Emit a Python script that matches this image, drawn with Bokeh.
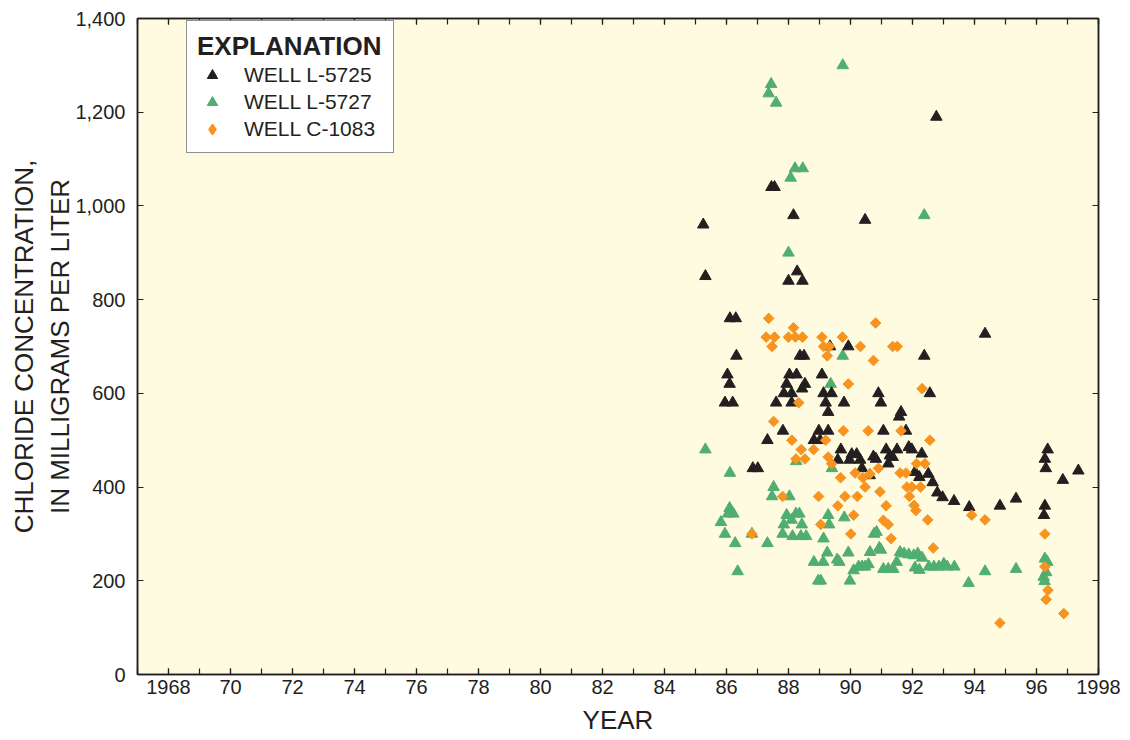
from bokeh.plotting import figure
from bokeh.models import FixedTicker, LinearAxis, Legend, LegendItem
from bokeh.embed import file_html
from bokeh.resources import INLINE
import math

# ---------------- data ----------------
l5725_year = [1987.45, 1987.55, 1988.16, 1985.25, 1988.28, 1988.00, 1988.45, 1985.32, 1992.77, 1990.47,
              1986.11, 1986.30, 1986.32, 1988.37, 1988.50, 1986.03, 1986.10, 1985.95, 1986.20, 1988.03,
              1988.26, 1988.53, 1987.94, 1988.44, 1987.85, 1988.10, 1987.60, 1988.10, 1987.82, 1987.32,
              1986.85, 1987.01, 1989.34, 1989.93, 1992.38, 1989.08, 1989.13, 1989.39, 1989.20, 1989.79,
              1989.28, 1990.90, 1990.98, 1992.56, 1991.63, 1991.57, 1988.98, 1989.28, 1991.06, 1991.79,
              1988.82, 1989.02, 1989.69, 1990.04, 1990.20, 1989.97, 1990.31, 1989.59, 1990.74, 1990.82,
              1991.15, 1991.50, 1991.27, 1991.36, 1991.88, 1991.98, 1992.30, 1991.22, 1990.37, 1990.62,
              1992.08, 1992.22, 1992.51, 1992.65, 1992.80, 1992.97, 1993.34, 1993.83, 1994.82, 1995.34,
              1994.34, 1996.36, 1996.27, 1996.30, 1997.35, 1996.85, 1996.27, 1996.24]
l5725_cl = [1040, 1040, 980, 960, 860, 840, 840, 850, 1190, 970,
            760, 760, 680, 680, 680, 640, 620, 580, 580, 640,
            640, 620, 620, 610, 600, 600, 580, 580, 520, 500,
            440, 440, 700, 700, 680, 640, 600, 600, 580, 580,
            560, 600, 580, 600, 560, 550, 520, 520, 520, 520,
            500, 500, 480, 470, 470, 458, 458, 458, 465, 460,
            480, 480, 467, 464, 485, 480, 471, 450, 440, 425,
            432, 421, 428, 410, 388, 378, 370, 357, 360, 375,
            727, 480, 460, 440, 435, 415, 360, 340]

l5727_year = [1987.44, 1987.36, 1987.60, 1988.21, 1988.46, 1988.07, 1988.00, 1989.75, 1992.38, 1985.32,
              1988.25, 1986.11, 1987.52, 1987.47, 1988.03, 1986.10, 1986.05, 1986.22, 1985.82, 1985.95,
              1986.28, 1986.36, 1986.82, 1987.32, 1987.94, 1988.24, 1988.35, 1988.10, 1987.85, 1988.43,
              1987.81, 1988.13, 1988.40, 1988.57, 1989.36, 1989.75, 1989.40, 1989.28, 1989.31, 1989.80,
              1989.13, 1990.76, 1990.84, 1988.82, 1989.12, 1989.25, 1989.57, 1989.64, 1989.93, 1988.96,
              1989.04, 1989.98, 1990.10, 1990.26, 1990.37, 1990.47, 1990.58, 1990.63, 1990.93, 1990.98,
              1991.06, 1991.22, 1991.38, 1991.49, 1991.60, 1991.73, 1991.88, 1992.04, 1992.17, 1992.31,
              1992.08, 1992.22, 1992.53, 1992.69, 1992.85, 1993.01, 1993.12, 1993.35, 1993.81, 1994.34,
              1995.34, 1996.27, 1996.35, 1996.31, 1996.23, 1996.26]
l5727_cl = [1260, 1240, 1220, 1080, 1080, 1060, 900, 1300, 980, 480,
            455, 430, 400, 380, 380, 355, 343, 343, 325, 300,
            280, 220, 300, 280, 340, 343, 343, 330, 320, 320,
            300, 295, 295, 295, 620, 680, 440, 340, 320, 335,
            290, 300, 304, 240, 240, 260, 245, 240, 260, 200,
            200, 200, 222, 230, 230, 230, 235, 261, 270, 266,
            225, 225, 225, 240, 261, 258, 256, 254, 258, 249,
            228, 223, 230, 230, 230, 236, 230, 230, 195, 220,
            225, 247, 240, 218, 208, 199]

c1083_year = [1987.36, 1988.16, 1987.28, 1987.55, 1988.00, 1988.22, 1988.45, 1987.47, 1988.33, 1987.52,
              1988.11, 1988.41, 1988.24, 1987.81, 1986.82, 1990.81, 1989.08, 1989.74, 1989.13, 1989.32,
              1990.32, 1991.36, 1991.51, 1989.25, 1990.74, 1989.93, 1992.31, 1989.77, 1990.57, 1991.63,
              1989.20, 1992.56, 1988.81, 1988.53, 1989.28, 1989.39, 1992.13, 1992.40, 1990.90, 1989.68,
              1990.15, 1990.40, 1990.63, 1991.60, 1991.79, 1991.82, 1991.98, 1992.26, 1991.90, 1992.05,
              1992.11, 1990.47, 1990.95, 1988.97, 1989.82, 1990.22, 1989.59, 1991.15, 1990.10, 1989.04,
              1991.06, 1991.22, 1990.01, 1991.31, 1992.49, 1992.67, 1993.91, 1994.34, 1996.27, 1996.27,
              1996.37, 1996.31, 1996.88, 1994.82]
c1083_cl = [760, 740, 720, 720, 720, 720, 720, 700, 580, 540,
            500, 480, 460, 380, 300, 750, 720, 720, 700, 700,
            700, 700, 700, 680, 670, 620, 610, 520, 520, 520,
            500, 500, 480, 460, 464, 450, 450, 450, 440, 420,
            430, 420, 428, 430, 430, 400, 400, 400, 380, 361,
            350, 400, 390, 380, 380, 380, 360, 360, 340, 320,
            329, 320, 300, 290, 330, 270, 340, 330, 300, 230,
            180, 160, 130, 110]

series_names = ["WELL L-5725", "WELL L-5727", "WELL C-1083"]
x_tick_years = [1968, 1970, 1972, 1974, 1976, 1978, 1980, 1982, 1984, 1986, 1988, 1990, 1992, 1994, 1996, 1998]
x_tick_labels = ["1968", "70", "72", "74", "76", "78", "80", "82", "84", "86", "88", "90", "92", "94", "96", "1998"]
x_minor_years = list(range(1967, 1999))
y_tick_values = [0, 200, 400, 600, 800, 1000, 1200, 1400]
y_tick_labels = ["0", "200", "400", "600", "800", "1,000", "1,200", "1,400"]

# ---------------- style ----------------
INK = "#231F20"
GREEN = "#4FAE70"
ORANGE = "#F7931E"
BG = "#FEFBE0"
FONT = "Liberation Sans"

p = figure(width=1130, height=740, x_range=(1967, 1998), y_range=(0, 1400),
           output_backend="svg", toolbar_location=None,
           min_border_left=137, min_border_right=32, min_border_top=18, min_border_bottom=66,
           background_fill_color=BG, border_fill_color="white",
           outline_line_color=INK, outline_line_width=1.5)
p.xgrid.visible = False
p.ygrid.visible = False


def style_axis(ax, show_labels):
    ax.axis_line_color = INK
    ax.axis_line_width = 1.5
    ax.major_tick_line_color = INK
    ax.minor_tick_line_color = INK
    ax.major_tick_line_width = 1.2
    ax.minor_tick_line_width = 1.2
    ax.major_tick_in = 6
    ax.major_tick_out = 0
    ax.minor_tick_in = 6
    ax.minor_tick_out = 0
    ax.major_label_text_font = FONT
    if show_labels:
        ax.major_label_text_font_size = "20px"
        ax.major_label_text_color = INK
    else:
        ax.major_label_text_font_size = "1px"
        ax.major_label_text_color = None
        ax.major_label_standoff = 0


# bottom axis
xb = p.xaxis[0]
xb.ticker = FixedTicker(ticks=x_tick_years, minor_ticks=x_minor_years)
xb.major_label_overrides = dict(zip(x_tick_years, x_tick_labels))
style_axis(xb, True)
xb.major_label_standoff = 5
xb.axis_label = "YEAR"
xb.axis_label_text_font = FONT
xb.axis_label_text_font_size = "26px"
xb.axis_label_text_font_style = "normal"
xb.axis_label_text_color = INK
xb.axis_label_standoff = 8

# left axis
yl = p.yaxis[0]
yl.ticker = FixedTicker(ticks=y_tick_values, minor_ticks=[])
yl.major_label_overrides = dict(zip(y_tick_values, y_tick_labels))
style_axis(yl, True)
yl.major_label_standoff = 12
yl.axis_label = "CHLORIDE CONCENTRATION,\nIN MILLIGRAMS PER LITER"
yl.axis_label_text_font = FONT
yl.axis_label_text_font_size = "26px"
yl.axis_label_text_font_style = "normal"
yl.axis_label_text_color = INK
yl.axis_label_standoff = -3

# top and right axes (ticks only)
xt = LinearAxis(ticker=FixedTicker(ticks=x_tick_years, minor_ticks=x_minor_years))
style_axis(xt, False)
p.add_layout(xt, "above")
yr = LinearAxis(ticker=FixedTicker(ticks=y_tick_values, minor_ticks=[]))
style_axis(yr, False)
p.add_layout(yr, "right")

# data
r_green = p.scatter(l5727_year, l5727_cl, marker="triangle", size=11.5,
                    fill_color=GREEN, line_color=GREEN)
r_black = p.scatter(l5725_year, l5725_cl, marker="triangle", size=11.5,
                    fill_color=INK, line_color=INK)
r_orange = p.scatter(c1083_year, c1083_cl, marker="square", angle=math.pi / 4, size=7.5,
                     fill_color=ORANGE, line_color=ORANGE)
# legend key for the diamonds (hidden in the plot)
r_orange_key = p.scatter(c1083_year, c1083_cl, marker="diamond",
                         fill_color=ORANGE, line_color=ORANGE, line_width=1.5, visible=False)

legend = Legend(items=[LegendItem(label=series_names[0], renderers=[r_black]),
                       LegendItem(label=series_names[1], renderers=[r_green]),
                       LegendItem(label=series_names[2], renderers=[r_orange_key])],
                location=(49, 521), orientation="vertical",
                title="EXPLANATION", title_text_font=FONT, title_text_font_size="26px",
                title_text_font_style="bold", title_text_color=INK, title_standoff=-1,
                label_text_font=FONT, label_text_font_size="21px", label_text_color=INK,
                glyph_width=30, glyph_height=26, label_height=20, label_width=139,
                label_standoff=17, spacing=1, padding=10, margin=0,
                border_line_color=INK, border_line_width=1.2,
                background_fill_color="white", background_fill_alpha=1.0,
                inactive_fill_alpha=0.0)
p.add_layout(legend)

open("out.html", "w").write(file_html(p, INLINE))
